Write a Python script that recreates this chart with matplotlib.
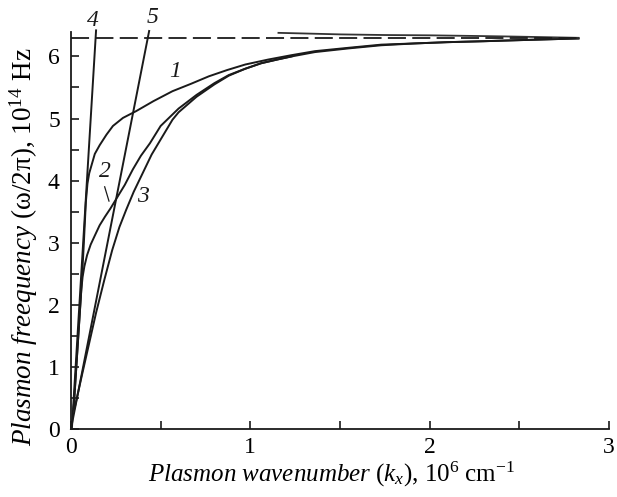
import numpy as np
import matplotlib
matplotlib.use('Agg')
import matplotlib.pyplot as plt

plt.rcParams['font.family'] = ['Liberation Serif', 'DejaVu Serif']
plt.rcParams['mathtext.fontset'] = 'custom'
plt.rcParams['mathtext.rm'] = 'Liberation Serif'
plt.rcParams['mathtext.it'] = 'Liberation Serif:italic'
plt.rcParams['mathtext.bf'] = 'Liberation Serif:bold'

# curves (k in 1e6 cm^-1, f in 1e14 Hz)
c1_x = [0.015, 0.04, 0.061, 0.072, 0.083, 0.092, 0.102, 0.115, 0.133, 0.16, 0.198, 0.234,
        0.29, 0.364, 0.46, 0.566, 0.67, 0.769, 0.87, 0.972, 1.1, 1.229, 1.36, 1.55,
        1.73, 1.92, 2.10, 2.30, 2.47, 2.65, 2.83]
c1_y = [0.33, 1.45, 2.40, 3.0, 3.65, 3.95, 4.12, 4.25, 4.43, 4.57, 4.74, 4.88,
        5.01, 5.12, 5.28, 5.44, 5.56, 5.68, 5.78, 5.87, 5.95, 6.02, 6.085, 6.14,
        6.19, 6.21, 6.23, 6.245, 6.26, 6.275, 6.29]

c2_x = [0.015, 0.04, 0.058, 0.065, 0.075, 0.09, 0.11, 0.134, 0.16, 0.19, 0.22, 0.26,
        0.30, 0.345, 0.39, 0.44, 0.5, 0.6, 0.7, 0.8, 0.88, 0.97, 1.06, 1.15, 1.23,
        1.36, 1.55, 1.73, 1.92, 2.10, 2.30, 2.47, 2.65, 2.83]
c2_y = [0.33, 1.45, 2.25, 2.45, 2.62, 2.80, 2.97, 3.12, 3.28, 3.42, 3.55, 3.74,
        3.93, 4.18, 4.40, 4.60, 4.88, 5.16, 5.38, 5.57, 5.70, 5.80, 5.89, 5.95, 6.0,
        6.07, 6.13, 6.18, 6.21, 6.23, 6.245, 6.26, 6.275, 6.29]

c3_x = [0.02, 0.06, 0.1, 0.14, 0.186, 0.23, 0.27, 0.308, 0.35, 0.40, 0.45, 0.51,
        0.566, 0.6, 0.7, 0.8, 0.88, 0.97, 1.06, 1.15, 1.23]
c3_y = [0.33, 0.85, 1.36, 1.87, 2.40, 2.88, 3.25, 3.53, 3.82, 4.12, 4.42, 4.71,
        4.98, 5.10, 5.35, 5.55, 5.69, 5.80, 5.89, 5.95, 6.0]

# light lines
l4_x = [0.005, 0.14]
l4_y = [0.0, 6.42]
l5_x = [0.0, 0.436]
l5_y = [0.0, 6.41]

# upper branch and asymptote
up_x = [1.157, 1.3, 1.505, 1.75, 2.0, 2.25, 2.47, 2.65, 2.83]
up_y = [6.38, 6.37, 6.355, 6.345, 6.34, 6.33, 6.32, 6.31, 6.30]
asym_x = [0.0, 2.83]
asym_y = [6.30, 6.30]

fig = plt.figure(figsize=(6.17, 4.97), dpi=100)
ax = fig.add_axes([0.115, 0.137, 0.872, 0.7994])

lw = 1.4
ax.plot(c1_x, c1_y, color='#1a1a1a', lw=lw)
ax.plot(c2_x, c2_y, color='#1a1a1a', lw=lw)
ax.plot(c3_x, c3_y, color='#1a1a1a', lw=lw)
ax.plot(l4_x, l4_y, color='#1a1a1a', lw=lw, clip_on=False)
ax.plot(l5_x, l5_y, color='#1a1a1a', lw=lw, clip_on=False)
ax.plot(up_x, up_y, color='#333333', lw=1.3, clip_on=False)
ax.plot(asym_x, asym_y, color='#1a1a1a', lw=1.3, dashes=(10, 3.5), clip_on=False)

# pointer for curve 2
ax.plot([0.188, 0.212], [3.90, 3.67], color='#1a1a1a', lw=0.9)

lab = dict(fontsize=17, style='italic', ha='center', va='center', color='#1a1a1a')
ax.text(0.58, 5.76, '1', **lab)
ax.text(0.19, 4.15, '2', **lab)
ax.text(0.40, 3.74, '3', **lab)
ax.text(0.122, 6.58, '4', clip_on=False, **lab)
ax.text(0.454, 6.63, '5', clip_on=False, **lab)

ax.set_xlim(0, 3.0)
ax.set_ylim(0, 6.4)
ax.spines['top'].set_visible(False)
ax.spines['right'].set_visible(False)
for s in ['left', 'bottom']:
    ax.spines[s].set_linewidth(1.3)
    ax.spines[s].set_color('#1a1a1a')

ax.set_xticks([0, 0.5, 1, 1.5, 2, 2.5, 3])
ax.set_xticklabels(['0', '', '1', '', '2', '', '3'])
ax.set_yticks(np.arange(0, 6.5, 0.5))
ax.set_yticklabels([str(int(v)) if v == int(v) else '' for v in np.arange(0, 6.5, 0.5)])
ax.tick_params(direction='in', length=6, width=1.2, labelsize=17, color='#1a1a1a')
ax.tick_params(axis='x', pad=6)
ax.tick_params(axis='y', pad=8)

fig.text(332 / 617, 1 - 474 / 497,
         r'$\mathit{Plasmon\ wavenumber\ (k_x)}$, 10$^6$ cm$^{-1}$',
         fontsize=18, ha='center', va='center')
fig.text(24 / 617, 1 - 247 / 497,
         r'$\mathit{Plasmon\ freequency}$ (ω/2π), 10$^{14}$ Hz',
         fontsize=19.5, ha='center', va='center', rotation=90)

fig.savefig('out.png', dpi=100)
